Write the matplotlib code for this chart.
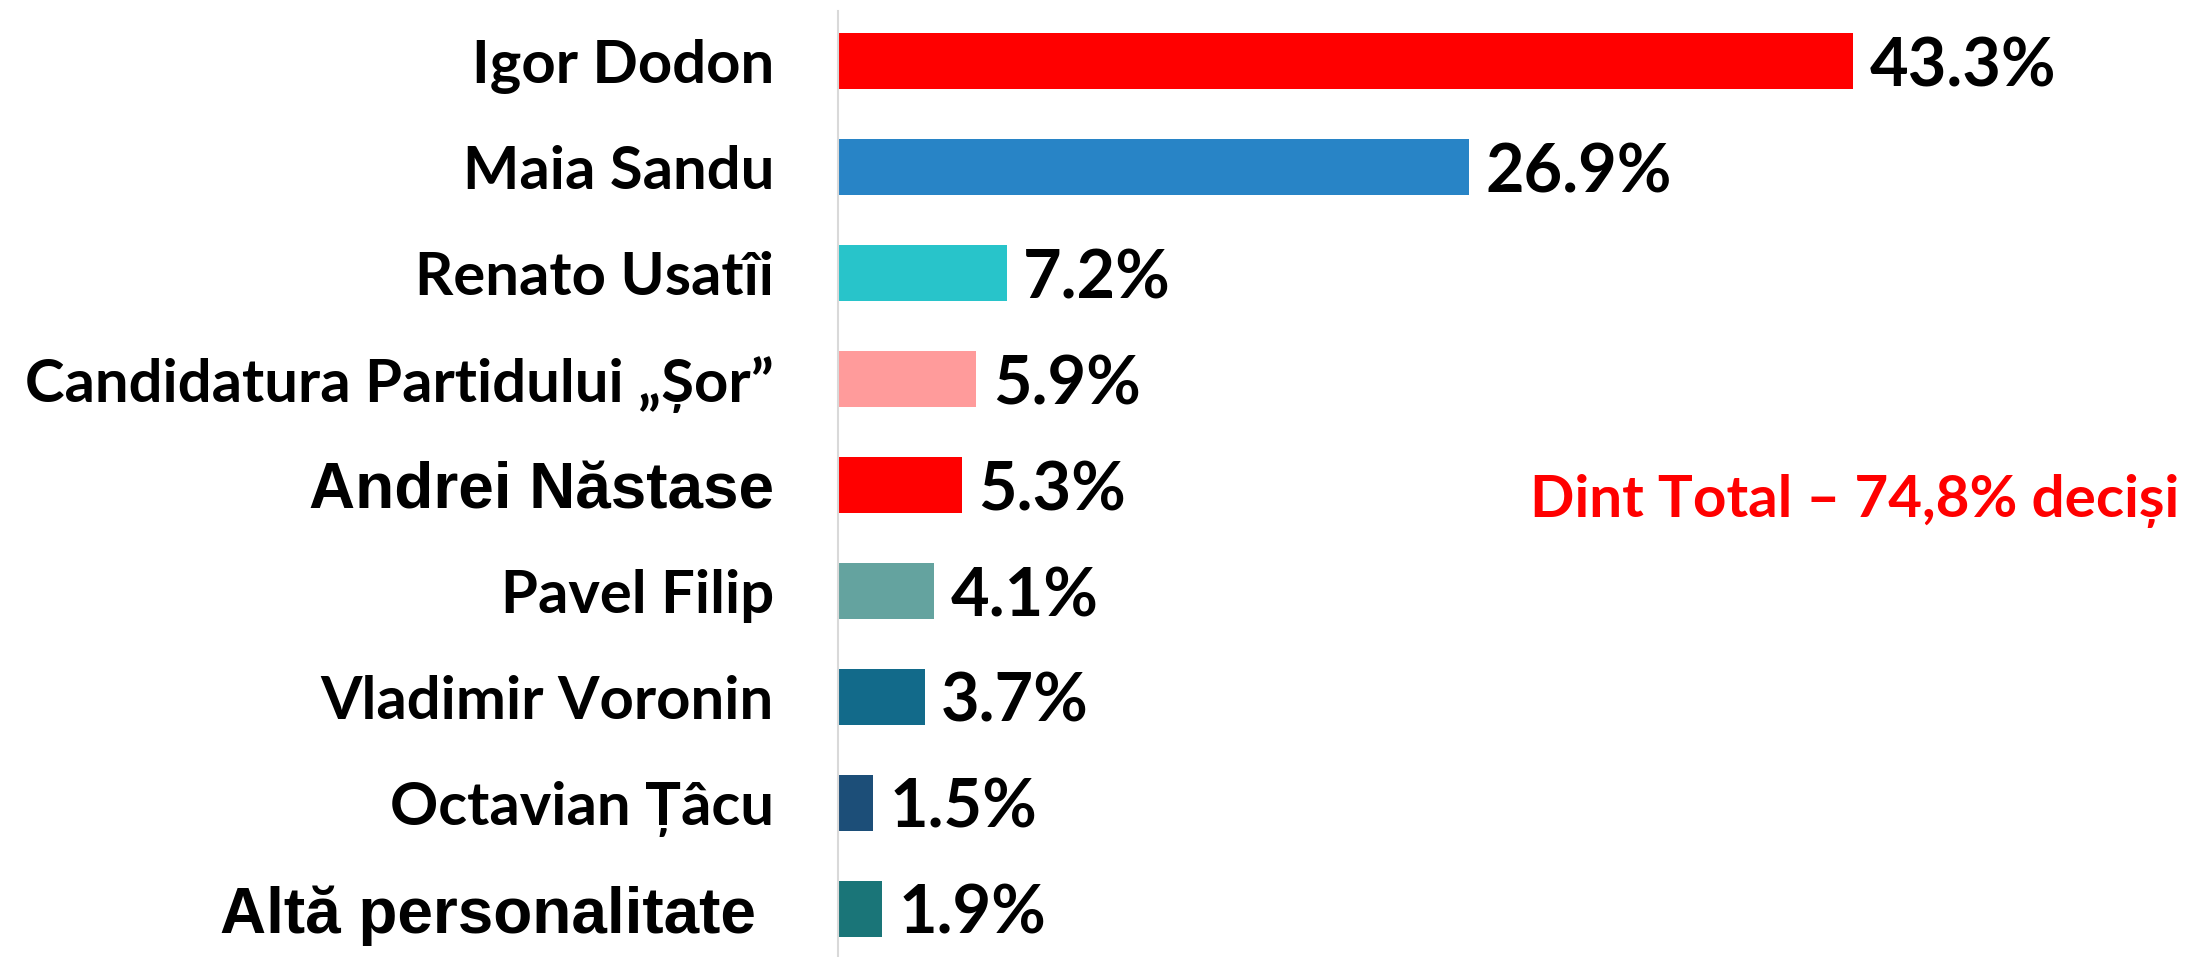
import matplotlib
matplotlib.use("Agg")
import matplotlib.pyplot as plt

candidates = ["Igor Dodon", "Maia Sandu", "Renato Usatîi", "Candidatura Partidului „Șor”",
              "Andrei Năstase", "Pavel Filip", "Vladimir Voronin", "Octavian Țâcu",
              "Altă personalitate "]
shares = [43.3, 26.9, 7.2, 5.9, 5.3, 4.1, 3.7, 1.5, 1.9]
colors = ["#FF0000", "#2884C6", "#28C4CA", "#FF9B9B", "#FF0000",
          "#64A39F", "#126A8A", "#1C4E78", "#1A7578"]
# these two labels were typed in a different font in the source deck
arial_labels = ["Andrei Năstase", "Altă personalitate "]
note = "Dint Total – 74,8% deciși"

fig = plt.figure(figsize=(22.05, 9.57), dpi=100)
ax = fig.add_axes([0.380, 0.0, 0.620, 0.9885])

ypos = list(range(len(candidates)))
ax.barh(ypos, shares, height=0.52, color=colors)

ax.set_xlim(0, 58.3)
ax.set_ylim(8.453, -0.472)

for sp in ["top", "right", "bottom"]:
    ax.spines[sp].set_visible(False)
ax.spines["left"].set_color("#D9D9D9")
ax.spines["left"].set_linewidth(1.5)
ax.set_xticks([])

ax.set_yticks(ypos)
ax.set_yticklabels(candidates)
ax.tick_params(axis="y", length=0, pad=46)
for lab in ax.get_yticklabels():
    if lab.get_text() in arial_labels:
        lab.set_fontfamily("Liberation Sans")
        lab.set_fontsize(46)
    else:
        lab.set_fontfamily("Lato")
        lab.set_fontsize(43)
    lab.set_fontweight("bold")

for y, v in zip(ypos, shares):
    ax.text(v + 0.7, y, f"{v:.1f}%", va="center_baseline", ha="left",
            fontsize=48, fontweight="bold", family="Lato", color="black")

ax.text(0.694, 0.482, note, transform=fig.transFigure, ha="left", va="center_baseline",
        fontsize=42, fontweight="bold", family="Lato", color="#FF0000")

fig.savefig("out.png", dpi=100)
